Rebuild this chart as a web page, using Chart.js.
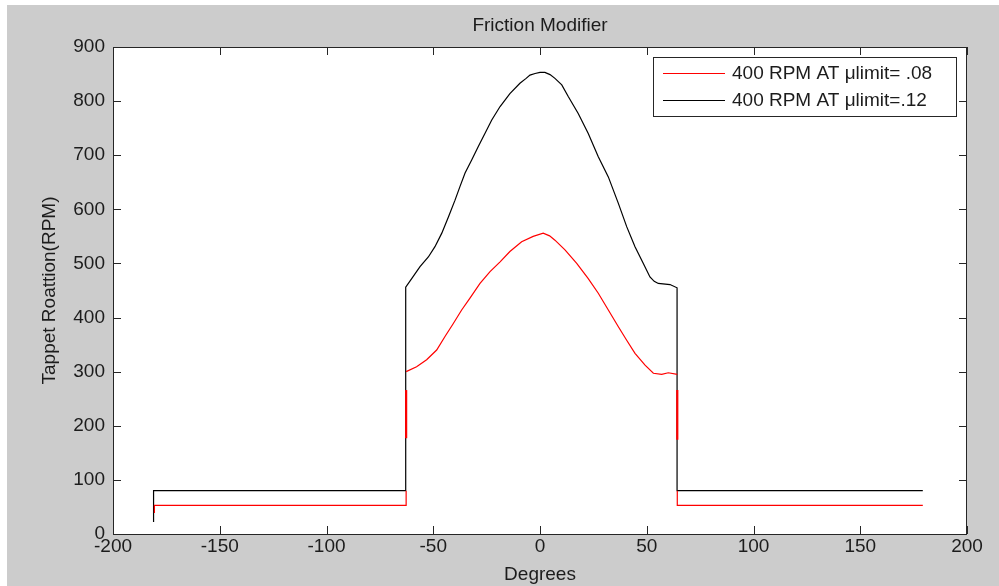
<!DOCTYPE html>
<html lang="en">
<head>
  <meta charset="UTF-8" />
  <title>Friction Modifier</title>
  <script src="https://cdn.jsdelivr.net/npm/chart.js"></script>
  <style>
    html, body { margin: 0; padding: 0; background: #fff; }
    canvas { display: block; }
  </style>
</head>
<body>
  <canvas id="frictionChart" width="999" height="586"></canvas>

  <script>
    // Tick values of both axes
    const xTickValues = [-200, -150, -100, -50, 0, 50, 100, 150, 200];
    const yTickValues = [0, 100, 200, 300, 400, 500, 600, 700, 800, 900];

    // 400 RPM AT ulimit = .08 (red)
    const redX = [-180.6, -180.6, -62.7, -62.7, -62.7, -62.7, -62.7,
      -57.8, -53.1, -48.4, -44.5, -40.6, -36.7, -32.8, -28.1, -23.4, -18.7, -14.1, -8.6, -3.2, 1.5,
      4.5, 7.0, 11.7, 17.2, 22.6, 27.3, 32.0, 36.7, 40.6, 44.5, 49.2, 53.1, 57.0, 60.1,
      64.3, 64.3, 64.3, 64.3, 64.3, 179.3];
    const redY = [39, 53, 53, 80, 177, 266, 300,
      309, 322, 340, 365, 389, 414, 436, 463, 485, 503, 522, 540, 550, 556,
      551, 543, 525, 500, 472, 445, 414, 383, 358, 334, 312, 297, 295, 298,
      295, 266, 174, 80, 53, 53];

    // 400 RPM AT ulimit = .12 (black)
    const blackX = [-181.0, -181.0, -62.9, -62.9,
      -60.1, -56.2, -52.3, -49.2, -46.0, -42.9, -39.8, -37.5, -35.1, -32.0, -28.9, -25.8, -22.6,
      -18.7, -14.1, -9.4, -6.5, -4.7, -2.3, 0, 2.3, 4.7, 7.0, 10.2, 13.3, 17.9, 22.6, 27.3, 32.0,
      36.7, 40.6, 44.5, 48.4, 51.5, 53.5, 55.4, 60.9, 64.2, 64.2, 179.3];
    const blackY = [22, 80, 80, 456,
      472, 494, 512, 531, 556, 586, 617, 642, 667, 691, 716, 740, 765,
      790, 814, 833, 842, 848, 851, 853, 853, 849, 842, 830, 808, 777, 740, 697, 660,
      611, 568, 531, 500, 475, 467, 463, 461, 455, 80, 80];

    const toPoints = (xs, ys) => xs.map((x, i) => ({ x: x, y: ys[i] }));

    const FONT = { family: '"Liberation Sans", Arial, sans-serif', size: 19 };
    const TEXT = '#1c1c1c';
    const AXIS = '#262626';

    // red edge: the vertical jumps are mostly covered by the black one
    function redVertical(ctx) {
      const a = ctx.p0.parsed, b = ctx.p1.parsed;
      if (a.x !== b.x) return null;
      return { lo: Math.min(a.y, b.y), hi: Math.max(a.y, b.y) };
    }

    // grey figure, white axes
    const figureBg = {
      id: 'figureBg',
      beforeDraw(chart) {
        const { ctx, width, height, chartArea: a } = chart;
        ctx.save();
        ctx.fillStyle = '#ffffff';
        ctx.fillRect(0, 0, width, height);
        ctx.fillStyle = '#cccccc';
        ctx.fillRect(7, 5, width - 7, height - 5);
        ctx.fillStyle = '#ffffff';
        ctx.fillRect(a.left, a.top, a.right - a.left, a.bottom - a.top);
        ctx.restore();
      }
    };

    // box round the axes with inward ticks, matlab style
    const axesBox = {
      id: 'axesBox',
      afterDatasetsDraw(chart) {
        const { ctx, chartArea: a, scales } = chart;
        const len = 8;
        ctx.save();
        ctx.strokeStyle = AXIS;
        ctx.lineWidth = 1;
        ctx.beginPath();
        ctx.rect(a.left + 0.5, a.top + 0.5, a.right - a.left - 1, a.bottom - a.top);
        scales.x.ticks.forEach(t => {
          const px = Math.round(scales.x.getPixelForValue(t.value)) + 0.5;
          ctx.moveTo(px, a.bottom); ctx.lineTo(px, a.bottom - len);
          ctx.moveTo(px, a.top); ctx.lineTo(px, a.top + len);
        });
        scales.y.ticks.forEach(t => {
          const py = Math.round(scales.y.getPixelForValue(t.value)) + 0.5;
          ctx.moveTo(a.left, py); ctx.lineTo(a.left + len, py);
          ctx.moveTo(a.right, py); ctx.lineTo(a.right - len, py);
        });
        ctx.stroke();
        ctx.restore();
      }
    };

    // legend box in the top right corner of the axes
    const boxLegend = {
      id: 'boxLegend',
      afterDraw(chart) {
        const { ctx, chartArea: a } = chart;
        const sets = chart.data.datasets;
        ctx.save();
        ctx.font = FONT.size + 'px ' + FONT.family;
        const textW = Math.max(...sets.map(d => ctx.measureText(d.label).width));
        const rowH = 27, lineLen = 62;
        const w = Math.max(303, 10 + lineLen + 7 + textW + 11);
        const h = 59;
        const right = a.right - 11, top = a.top + 10;
        const left = Math.round(right - w);
        ctx.fillStyle = '#ffffff';
        ctx.fillRect(left, top, right - left, h);
        ctx.strokeStyle = AXIS;
        ctx.lineWidth = 1;
        ctx.strokeRect(left + 0.5, top + 0.5, right - left, h);
        sets.forEach((d, i) => {
          const y = top + 16 + i * rowH + 0.5;
          ctx.strokeStyle = d.borderColor;
          ctx.lineWidth = 1;
          ctx.beginPath();
          ctx.moveTo(left + 10, y);
          ctx.lineTo(left + 10 + lineLen, y);
          ctx.stroke();
          ctx.fillStyle = TEXT;
          ctx.textBaseline = 'middle';
          ctx.fillText(d.label, left + 10 + lineLen + 7, y);
        });
        ctx.restore();
      }
    };

    const chart = new Chart(document.getElementById('frictionChart').getContext('2d'), {
      type: 'line',
      data: {
        datasets: [{
          label: '400 RPM AT μlimit= .08',
          data: toPoints(redX, redY),
          borderColor: '#ff0000',
          borderWidth: 1.2,
          pointRadius: 0,
          tension: 0,
          segment: {
            borderColor: ctx => {
              const v = redVertical(ctx);
              if (v && v.lo >= 80 && !(v.lo >= 170 && v.hi <= 270)) return 'rgba(0,0,0,0)';
              return undefined;
            },
            borderWidth: ctx => {
              const v = redVertical(ctx);
              return v && v.lo >= 170 && v.hi <= 270 ? 2.2 : undefined;
            }
          }
        }, {
          label: '400 RPM AT μlimit=.12',
          data: toPoints(blackX, blackY),
          borderColor: '#000000',
          borderWidth: 1.2,
          pointRadius: 0,
          tension: 0
        }]
      },
      options: {
        responsive: false,
        animation: false,
        layout: { padding: { top: 0, right: 32, bottom: 0, left: 0 } },
        plugins: {
          legend: { display: false },
          tooltip: { enabled: false },
          title: {
            display: true,
            text: 'Friction Modifier',
            fullSize: false,
            color: TEXT,
            font: { family: FONT.family, size: FONT.size, weight: 'normal' },
            padding: { top: 14.6, bottom: 9.6 }
          }
        },
        scales: {
          x: {
            type: 'linear',
            min: -200,
            max: 200,
            afterBuildTicks: s => { s.ticks = xTickValues.map(v => ({ value: v })); },
            afterFit: s => { s.height = 52; },
            grid: { display: false, drawTicks: false },
            border: { display: false },
            ticks: { color: TEXT, font: FONT, padding: 1, maxRotation: 0, autoSkip: false },
            title: {
              display: true,
              text: 'Degrees',
              color: TEXT,
              font: FONT,
              padding: { top: 0, bottom: 0 }
            }
          },
          y: {
            min: 0,
            max: 900,
            afterBuildTicks: s => { s.ticks = yTickValues.map(v => ({ value: v })); },
            afterFit: s => { s.width = 113; },
            grid: { display: false, drawTicks: false },
            border: { display: false },
            ticks: { color: TEXT, font: FONT, padding: 8, autoSkip: false },
            title: {
              display: true,
              text: 'Tappet Roattion(RPM)',
              color: TEXT,
              font: FONT,
              padding: { top: 38, bottom: 0 }
            }
          }
        }
      },
      plugins: [figureBg, axesBox, boxLegend]
    });
  </script>
</body>
</html>
